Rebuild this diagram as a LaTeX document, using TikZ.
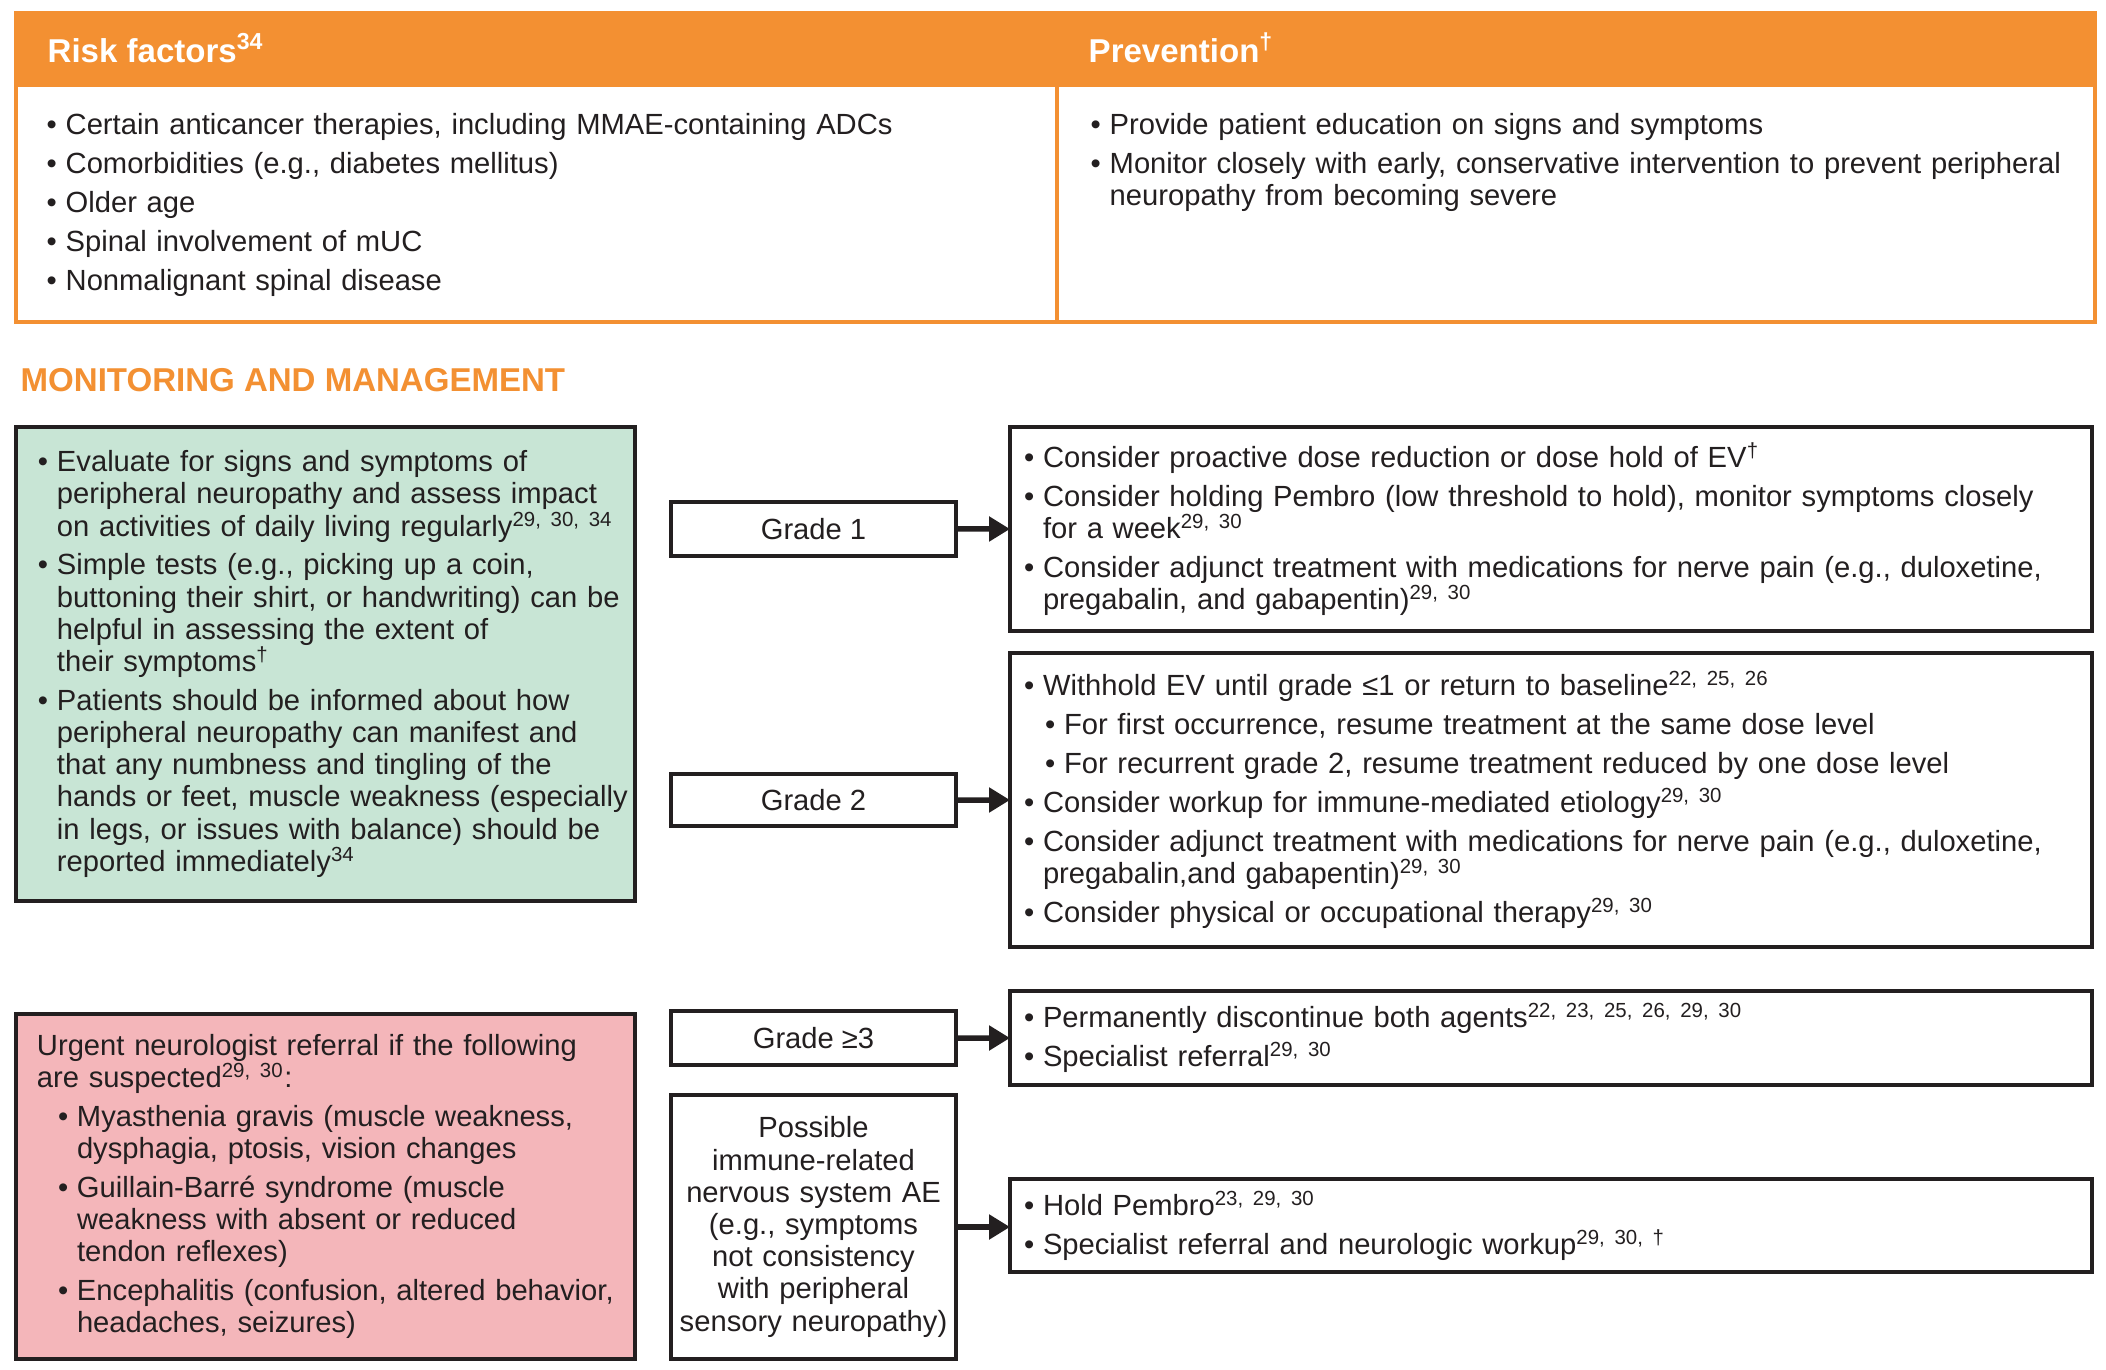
\documentclass[tikz,border=0pt]{standalone}
\usepackage{fontspec}
\setmainfont{Liberation Sans}
\usetikzlibrary{arrows.meta}

\definecolor{ink}{RGB}{35,31,32}
\definecolor{pnorange}{RGB}{243,144,50}
\definecolor{mgtgreen}{RGB}{200,229,213}
\definecolor{alertpink}{RGB}{244,182,186}

\newlength{\lpad}
\newcommand{\bul}[1]{\leftskip=\lpad\hangindent=1.9mm\hangafter=1\noindent\makebox[1.9mm][l]{\textbullet}#1\par}
\newcommand{\subbul}[1]{\leftskip=\dimexpr\lpad+2.1mm\relax\hangindent=1.9mm\hangafter=1\noindent\makebox[1.9mm][l]{\textbullet}#1\par}
\newcommand{\introline}[1]{\leftskip=\lpad\noindent#1\par}
\newcommand{\citesup}[1]{\textsuperscript{#1}}

\begin{document}
\begin{tikzpicture}[x=1mm,y=-1mm,
	box/.style={draw=ink,line width=0.45mm,outer sep=0pt,anchor=north west,inner ysep=0pt,text=ink,font=\fontsize{8.3}{9.16}\selectfont},
	listbox/.style={box,align=left,inner xsep=0.6mm,execute at begin node={\setlength{\parskip}{1.9pt}\setlength{\lpad}{#1}}},
	gradebox/.style={box,align=center,inner xsep=0.2mm,minimum width=28.5mm},
	panellist/.style={anchor=north west,inner sep=0pt,align=left,text=ink,font=\fontsize{8.3}{9.16}\selectfont,execute at begin node={\setlength{\parskip}{1.9pt}\setlength{\lpad}{0pt}}},
	headtext/.style={anchor=base west,inner sep=0pt,font=\fontsize{9.4}{11}\selectfont\bfseries},
	flow/.style={draw=ink,line width=0.55mm,-{Triangle[length=2.1mm,width=2.4mm]}}]
	\fill[white] (0,0) rectangle (210.6,137.0);
	% risk factors / prevention panel
	\draw[pnorange,line width=0.4mm] (1.6,1.3) rectangle (209.5,32.2);
	\fill[pnorange] (1.6,1.3) rectangle (209.5,8.7);
	\draw[pnorange,line width=0.4mm] (105.7,8.7) -- (105.7,32.2);
	\node[headtext,text=white] (riskttl) at (4.7,6.3) {Risk factors\citesup{34}};
	\node[headtext,text=white] (prevttl) at (108.8,6.3) {Prevention\citesup{\dag}};
	\node[panellist,text width=95mm] (risklist) at (4.6,11.3) {
		\bul{Certain anticancer therapies, including MMAE-containing ADCs}
		\bul{Comorbidities (e.g., diabetes mellitus)}
		\bul{Older age}
		\bul{Spinal involvement of mUC}
		\bul{Nonmalignant spinal disease}};
	\node[panellist,text width=98mm] (prevlist) at (109.0,11.3) {
		\bul{Provide patient education on signs and symptoms}
		\bul{Monitor closely with early, conservative intervention to prevent peripheral\newline neuropathy from becoming severe}};
	% monitoring and management
	\node[headtext,text=pnorange] (montitle) at (2.0,39.2) {MONITORING AND MANAGEMENT};
	\node[listbox=1.6mm,fill=mgtgreen,text width=60.7mm,minimum height=47.4mm] (assess) at (1.6,42.7) {
		\bul{Evaluate for signs and symptoms of\newline peripheral neuropathy and assess impact\newline on activities of daily living regularly\citesup{29, 30, 34}}
		\bul{Simple tests (e.g., picking up a coin,\newline buttoning their shirt, or handwriting) can be\newline helpful in assessing the extent of\newline their symptoms\citesup{\dag}}
		\bul{Patients should be informed about how\newline peripheral neuropathy can manifest and\newline that any numbness and tingling of the\newline hands or feet, muscle weakness (especially\newline in legs, or issues with balance) should be\newline reported immediately\citesup{34}}};
	\node[listbox=1.5mm,fill=alertpink,text width=60.7mm,minimum height=34.5mm] (urgent) at (1.6,101.4) {
		\introline{Urgent neurologist referral if the following\newline are suspected\citesup{29, 30}:}
		\subbul{Myasthenia gravis (muscle weakness,\newline dysphagia, ptosis, vision changes}
		\subbul{Guillain-Barré syndrome (muscle\newline weakness with absent or reduced\newline tendon reflexes)}
		\subbul{Encephalitis (confusion, altered behavior,\newline headaches, seizures)}};
	% grades
	\node[gradebox,minimum height=5.4mm] (gone) at (67.1,50.2) {Grade 1};
	\node[gradebox,minimum height=5.2mm] (gtwo) at (67.1,77.4) {Grade 2};
	\node[gradebox,minimum height=5.4mm] (gthree) at (67.1,101.1) {Grade ≥3};
	\node[gradebox,text width=28.1mm,minimum height=26.4mm] (irae) at (67.1,109.5) {Possible\\ immune-related\\ nervous system AE\\ (e.g., symptoms\\ not consistency\\ with peripheral\\ sensory neuropathy)};
	% actions
	\node[listbox=0.8mm,text width=107mm,minimum height=20.4mm] (doseone) at (101.0,42.7) {
		\bul{Consider proactive dose reduction or dose hold of EV\citesup{\dag}}
		\bul{Consider holding Pembro (low threshold to hold), monitor symptoms closely\newline for a week\citesup{29, 30}}
		\bul{Consider adjunct treatment with medications for nerve pain (e.g., duloxetine,\newline pregabalin, and gabapentin)\citesup{29, 30}}};
	\node[listbox=0.8mm,text width=107mm,minimum height=29.4mm] (dosetwo) at (101.0,65.3) {
		\bul{Withhold EV until grade ≤1 or return to baseline\citesup{22, 25, 26}}
		\subbul{For first occurrence, resume treatment at the same dose level}
		\subbul{For recurrent grade 2, resume treatment reduced by one dose level}
		\bul{Consider workup for immune-mediated etiology\citesup{29, 30}}
		\bul{Consider adjunct treatment with medications for nerve pain (e.g., duloxetine,\newline pregabalin,and gabapentin)\citesup{29, 30}}
		\bul{Consider physical or occupational therapy\citesup{29, 30}}};
	\node[listbox=0.8mm,text width=107mm,minimum height=9.4mm] (dosethree) at (101.0,99.1) {
		\bul{Permanently discontinue both agents\citesup{22, 23, 25, 26, 29, 30}}
		\bul{Specialist referral\citesup{29, 30}}};
	\node[listbox=0.8mm,text width=107mm,minimum height=9.3mm] (holdpem) at (101.0,117.9) {
		\bul{Hold Pembro\citesup{23, 29, 30}}
		\bul{Specialist referral and neurologic workup\citesup{29, 30, \dag}}};
	\draw[flow] (gone.east) -- (doseone.west);
	\draw[flow] (gtwo.east) -- (dosetwo.west);
	\draw[flow] (gthree.east) -- (dosethree.west);
	\draw[flow] (irae.east) -- (irae.east -| holdpem.west);
\end{tikzpicture}
\end{document}
